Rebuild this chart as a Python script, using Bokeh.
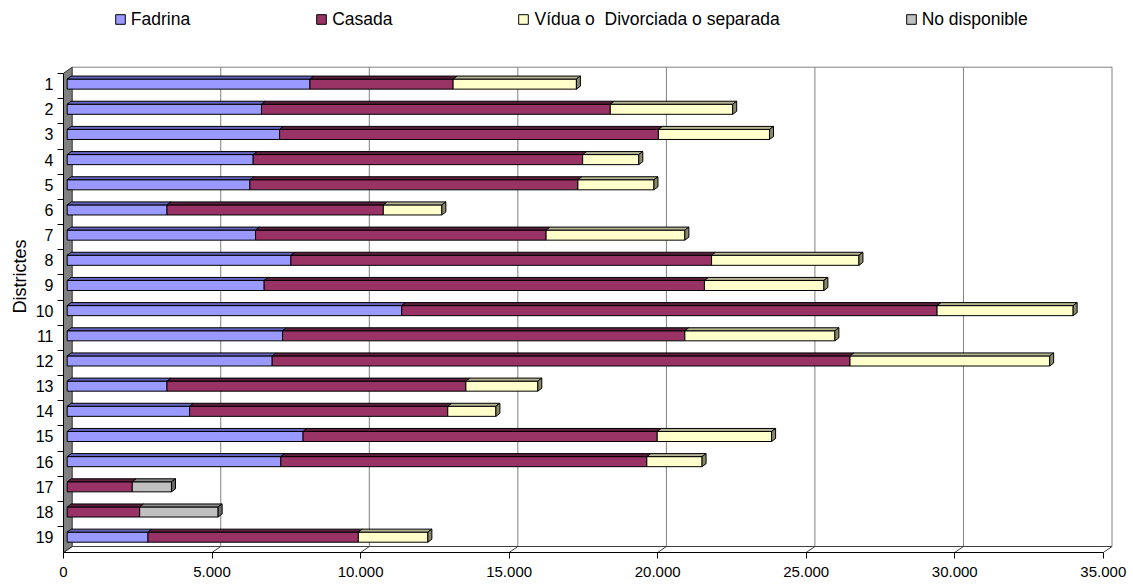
from bokeh.plotting import figure
from bokeh.models import (Range1d, LinearAxis, FixedTicker, Legend, LegendItem,
                          ColumnDataSource)
from bokeh.embed import file_html
from bokeh.resources import INLINE

# ---------------- data ----------------
districts = ["1", "2", "3", "4", "5", "6", "7", "8", "9", "10",
             "11", "12", "13", "14", "15", "16", "17", "18", "19"]
series_names = ["Fadrina", "Casada", "Vídua o  Divorciada o separada", "No disponible"]
fadrina = [8170, 6540, 7150, 6260, 6150, 3360, 6340, 7530, 6630, 11260,
           7250, 6900, 3360, 4120, 7940, 7190, 0, 0, 2720]
casada = [4820, 11740, 12750, 11090, 11040, 7280, 9780, 14160, 14820, 18020,
          13540, 19450, 10060, 8690, 11920, 12320, 2190, 2440, 7080]
vidua = [4150, 4120, 3740, 1890, 2560, 1970, 4670, 4960, 4020, 4580,
         5050, 6720, 2420, 1620, 3850, 1860, 0, 0, 2340]
no_disponible = [0, 0, 0, 0, 0, 0, 0, 0, 0, 0,
                 0, 0, 0, 0, 0, 0, 1320, 2640, 0]
x_ticks = [0, 5000, 10000, 15000, 20000, 25000, 30000, 35000]
x_tick_labels = ["0", "5.000", "10.000", "15.000", "20.000", "25.000", "30.000", "35.000"]

# ---------------- styling / geometry ----------------
front_colors = ["#9999FF", "#993366", "#FFFFCC", "#C0C0C0"]
top_colors = ["#6464C0", "#5C1F3E", "#B4B494", "#8C8C8C"]
side_colors = ["#5A5AA8", "#4A1830", "#8A8A6A", "#6A6A6A"]
FONT = "Liberation Sans"

W, HGT = 1133, 586
BORDER_L, BORDER_R, BORDER_B = 63, 20, 34
FRAME_W = W - BORDER_L - BORDER_R
FRAME_H = HGT - BORDER_B
PX = 33.66            # value units per pixel
ROW_PX = 25.17        # pixels per category row
X_START = -3.7 * PX   # bar plane origin 3.7px right of frame left
FRONT = X_START       # front plane offset (axis plane)
BACK = 5.0 * PX       # back wall offset
DX = 4.0 * PX         # bar depth (x)
DY = 3.0 / ROW_PX     # bar depth (y)
H = 0.20              # half height of bar front face
ROW1_PX = 83.6        # screen y of first row centre
Y_TOP = 1 - ROW1_PX / ROW_PX
Y_BOTTOM = 1 + (FRAME_H - ROW1_PX) / ROW_PX
WALL_TOP = 1 - (ROW1_PX - 66.7) / ROW_PX
AXIS_TOP = 1 - (ROW1_PX - 72.7) / ROW_PX
FLOOR_BACK = 1 + (546 - ROW1_PX) / ROW_PX

rows = [i + 1 for i in range(len(districts))]

p = figure(width=W, height=HGT, output_backend="svg", toolbar_location=None,
           x_range=Range1d(X_START, X_START + FRAME_W * PX),
           y_range=Range1d(Y_BOTTOM, Y_TOP),
           x_axis_location=None,
           min_border_left=BORDER_L, min_border_right=BORDER_R,
           min_border_top=0, min_border_bottom=BORDER_B)
p.outline_line_color = None
p.grid.visible = False
p.background_fill_color = "white"

p.extra_x_ranges = {"front": Range1d(0, FRAME_W * PX)}

# ---- back wall, gridlines, floor ----
grid_x = [t + BACK for t in x_ticks[1:]]
p.segment(x0=grid_x, y0=[WALL_TOP] * len(grid_x), x1=grid_x, y1=[FLOOR_BACK] * len(grid_x),
          line_color="#808080", line_width=1)
p.segment(x0=[x_ticks[0] + BACK], y0=[WALL_TOP], x1=[x_ticks[-1] + BACK], y1=[WALL_TOP],
          line_color="#808080", line_width=1)
p.segment(x0=[x_ticks[0] + BACK], y0=[FLOOR_BACK], x1=[x_ticks[-1] + BACK], y1=[FLOOR_BACK],
          line_color="#404040", line_width=1)
p.segment(x0=[t + BACK for t in x_ticks], y0=[FLOOR_BACK] * len(x_ticks),
          x1=[t + FRONT for t in x_ticks], y1=[Y_BOTTOM] * len(x_ticks),
          line_color="#404040", line_width=1)
# left side wall
p.patch(x=[FRONT, BACK, BACK, FRONT], y=[AXIS_TOP, WALL_TOP, FLOOR_BACK, Y_BOTTOM],
        fill_color="#808080", line_color="#303030", line_width=1)

# ---- bars ----
series = [fadrina, casada, vidua, no_disponible]
renderers = []
lefts_acc = [0] * len(rows)
last_right = [None] * len(rows)
last_idx = [None] * len(rows)
tops = [dict(xs=[], ys=[]) for _ in series]
for k, vals in enumerate(series):
    ys, ls, rs = [], [], []
    for i, v in enumerate(vals):
        l = lefts_acc[i]
        r = l + v
        if v > 0:
            ys.append(rows[i]); ls.append(l); rs.append(r)
            tops[k]["xs"].append([l, l + DX, r + DX, r])
            tops[k]["ys"].append([rows[i] - H, rows[i] - H - DY, rows[i] - H - DY, rows[i] - H])
            last_right[i] = r
            last_idx[i] = k
        lefts_acc[i] = r
    src = ColumnDataSource(dict(y=ys, left=ls, right=rs))
    rr = p.hbar(y="y", left="left", right="right", height=2 * H, source=src,
                fill_color=front_colors[k], line_color="black", line_width=1)
    renderers.append(rr)

for k in range(len(series)):
    p.patches(xs=tops[k]["xs"], ys=tops[k]["ys"], fill_color=top_colors[k],
              line_color="black", line_width=1)

side_by_series = [dict(xs=[], ys=[]) for _ in series]
for i in range(len(rows)):
    k = last_idx[i]
    if k is None:
        continue
    r = last_right[i]
    side_by_series[k]["xs"].append([r, r + DX, r + DX, r])
    side_by_series[k]["ys"].append([rows[i] - H, rows[i] - H - DY, rows[i] + H - DY, rows[i] + H])
for k in range(len(series)):
    if side_by_series[k]["xs"]:
        p.patches(xs=side_by_series[k]["xs"], ys=side_by_series[k]["ys"],
                  fill_color=side_colors[k], line_color="black", line_width=1)

# ---- axes ----
xaxis = LinearAxis(x_range_name="front", ticker=FixedTicker(ticks=x_ticks),
                   major_label_overrides={t: s for t, s in zip(x_ticks, x_tick_labels)},
                   bounds=(x_ticks[0], x_ticks[-1]))
xaxis.axis_line_color = "black"
xaxis.axis_line_width = 1
xaxis.major_tick_out = 6
xaxis.major_tick_in = 0
xaxis.minor_tick_line_color = None
xaxis.major_tick_line_color = "black"
xaxis.major_label_standoff = 8
xaxis.major_label_text_font = FONT
xaxis.major_label_text_font_size = "15px"
xaxis.major_label_text_color = "black"
p.add_layout(xaxis, "below")

ya = p.yaxis[0]
ya.ticker = FixedTicker(ticks=rows, minor_ticks=[k + 0.58 for k in range(len(rows))])
ya.major_label_overrides = {r: d for r, d in zip(rows, districts)}
ya.bounds = (AXIS_TOP, Y_BOTTOM)
ya.axis_line_color = "black"
ya.major_tick_out = 6
ya.major_tick_in = 0
ya.major_tick_line_color = None
ya.minor_tick_out = 6
ya.minor_tick_in = 0
ya.minor_tick_line_color = "black"
ya.major_label_standoff = 4
ya.major_label_text_font = FONT
ya.major_label_text_font_size = "16px"
ya.major_label_text_color = "black"
ya.axis_label = "Districtes"
ya.axis_label_text_font = FONT
ya.axis_label_text_font_size = "18px"
ya.axis_label_text_font_style = "normal"
ya.axis_label_text_color = "black"
ya.axis_label_standoff = 3

# ---- legend (inside the frame, above the back wall) ----
legend = Legend(items=[LegendItem(label=n, renderers=[r]) for n, r in zip(series_names, renderers)],
                orientation="horizontal", location=(113.8 - BORDER_L, FRAME_H - 29.5),
                glyph_width=12, glyph_height=12, label_standoff=5,
                spacing=125, padding=0, margin=0,
                border_line_color=None, background_fill_alpha=0,
                label_text_font=FONT, label_text_font_size="17.5px",
                label_text_color="black", label_text_baseline="alphabetic")
p.add_layout(legend, "center")

open("out.html", "w").write(file_html(p, INLINE))
